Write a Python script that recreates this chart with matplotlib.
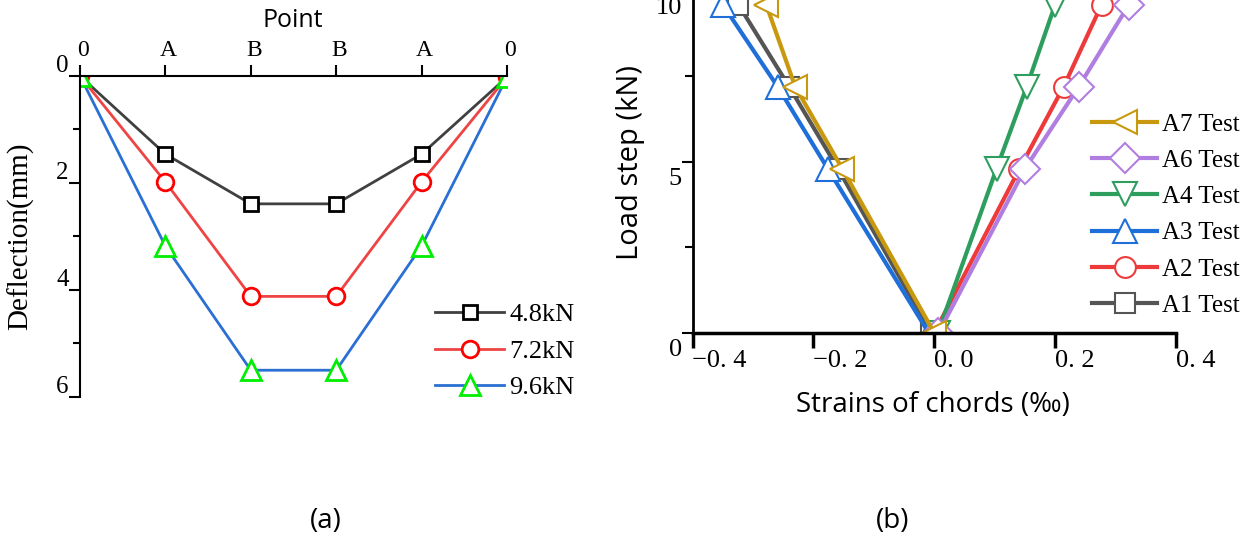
import matplotlib
matplotlib.use('Agg')
import matplotlib.pyplot as plt
import matplotlib.transforms as mtransforms
from matplotlib.ticker import MultipleLocator

# (a) deflection along the chord
points = ['0', 'A', 'B', 'B', 'A', '0']
defl_48 = [0.0, 1.46, 2.39, 2.39, 1.46, 0.02]
defl_72 = [0.0, 1.98, 4.12, 4.12, 1.98, 0.02]
defl_96 = [0.0, 3.18, 5.50, 5.50, 3.18, 0.02]
defl_labels = ['4.8kN', '7.2kN', '9.6kN']

# (b) strains of chords vs load step
load = [0, 4.8, 7.2, 9.6]
a1 = [-0.005, -0.159, -0.240, -0.324]
a2 = [0.000, 0.141, 0.214, 0.277]
a3 = [-0.009, -0.176, -0.259, -0.350]
a4 = [0.006, 0.103, 0.153, 0.200]
a6 = [0.007, 0.150, 0.239, 0.322]
a7 = [0.000, -0.152, -0.230, -0.278]
strain_ticks = [-0.4, -0.2, 0.0, 0.2, 0.4]
strain_ticklabels = ['\u22120. 4', '\u22120. 2', '0. 0', '0. 2', '0. 4']

serif = ['Liberation Serif', 'DejaVu Serif']
sans = ['Open Sans', 'DejaVu Sans']

fig = plt.figure(figsize=(12.5, 5.39), dpi=100)


def shift(labels, dx, dy):
    off = mtransforms.ScaledTranslation(dx / 100, dy / 100, fig.dpi_scale_trans)
    for t in labels:
        t.set_transform(t.get_transform() + off)


# ---------- (a) ----------
ax1 = fig.add_axes([0.064, 0.2635, 0.3416, 0.5955])
x = list(range(len(points)))
ax1.plot(x, defl_48, color='#404040', lw=2, marker='s', ms=10,
         mfc='white', mec='black', mew=2, label=defl_labels[0])
ax1.plot(x, defl_72, color='#ee4444', lw=2, marker='o', ms=12,
         mfc='white', mec='#ff0000', mew=2, label=defl_labels[1])
ax1.plot(x, defl_96, color='#2a6fd2', lw=2, marker='^', ms=15,
         mfc='white', mec='#00ee00', mew=2, label=defl_labels[2])
ax1.set_xlim(0, 5)
ax1.set_ylim(6, 0)
ax1.spines['right'].set_visible(False)
ax1.spines['bottom'].set_visible(False)
ax1.spines['top'].set_linewidth(1.5)
ax1.spines['left'].set_linewidth(1.5)
ax1.xaxis.tick_top()
ax1.set_xticks(x)
ax1.set_xticklabels(points, family=serif, fontsize=17)
ax1.yaxis.set_major_locator(MultipleLocator(2))
ax1.yaxis.set_minor_locator(MultipleLocator(1))
ax1.tick_params(axis='both', direction='out', length=8, width=1.5, pad=3)
ax1.tick_params(axis='y', which='minor', length=5, width=1.5)
for t in ax1.get_yticklabels():
    t.set_family(serif)
    t.set_fontsize(18)
shift(ax1.get_xticklabels(), 3, 0)
shift(ax1.get_yticklabels(), 4, 12)
ax1.set_xlabel('Point', family=sans, fontsize=18)
ax1.xaxis.set_label_position('top')
ax1.xaxis.set_label_coords(293 / 1250, 1 - 27 / 539, transform=fig.transFigure)
ax1.set_ylabel('Deflection(mm)', family=serif, fontsize=21)
ax1.yaxis.set_label_coords(34 / 1250, 1 - 236 / 539, transform=fig.transFigure)
ax1.legend(loc='center', bbox_to_anchor=(505 / 1250, 1 - 351 / 539),
           bbox_transform=fig.transFigure, frameon=False,
           prop={'family': serif, 'size': 19}, handlelength=2.6,
           handletextpad=0.2, labelspacing=0.5, borderpad=0)

# ---------- (b) ----------
ax2 = fig.add_axes([0.554, 0.3822, 0.3868, 0.6345])
series = [
    ('A1 Test', a1, '#555555', 's', 14),
    ('A2 Test', a2, '#ee3a3a', 'o', 15),
    ('A3 Test', a3, '#1f6fda', '^', 17),
    ('A4 Test', a4, '#2e9e5e', 'v', 17),
    ('A6 Test', a6, '#b07ee0', 'D', 15),
    ('A7 Test', a7, '#c8990f', '<', 17),
]
handles = []
for name, vals, col, mk, ms in series:
    h, = ax2.plot(vals, load, color=col, lw=3, marker=mk, ms=ms,
                  mfc='white', mec=col, mew=1.5, label=name)
    handles.append(h)
ax2.set_xlim(-0.4, 0.4)
ax2.set_ylim(0, 10)
ax2.spines['right'].set_visible(False)
ax2.spines['top'].set_visible(False)
ax2.spines['left'].set_linewidth(2)
ax2.spines['bottom'].set_linewidth(2.5)
ax2.set_xticks(strain_ticks)
ax2.set_xticklabels(strain_ticklabels, family=serif, fontsize=19, ha='left')
ax2.yaxis.set_major_locator(MultipleLocator(5))
ax2.yaxis.set_minor_locator(MultipleLocator(2.5))
ax2.tick_params(axis='x', direction='out', length=11, width=2.5, pad=1)
ax2.tick_params(axis='y', direction='out', length=8, width=1.5, pad=4)
ax2.tick_params(axis='y', which='minor', length=6, width=1.5)
for t in ax2.get_yticklabels():
    t.set_family(serif)
    t.set_fontsize(19)
shift(ax2.get_yticklabels(), 6, -15)
ax2.set_xlabel('Strains of chords (\u2030)', family=sans, fontsize=20)
ax2.xaxis.set_label_coords(933 / 1250, 1 - 391 / 539, transform=fig.transFigure)
ax2.set_ylabel('Load step (kN)', family=sans, fontsize=21)
ax2.yaxis.set_label_coords(645 / 1250, 1 - 162 / 539, transform=fig.transFigure)
ax2.legend(handles[::-1], [h.get_label() for h in handles[::-1]],
           loc='center', bbox_to_anchor=(1166 / 1250, 1 - 215 / 539),
           bbox_transform=fig.transFigure, frameon=False,
           prop={'family': serif, 'size': 18}, handlelength=2.6,
           handletextpad=0.2, labelspacing=0.55, borderpad=0)

fig.text(326 / 1250, 1 - 521 / 539, '(a)', family=sans, fontsize=20,
         ha='center', va='center')
fig.text(893 / 1250, 1 - 521 / 539, '(b)', family=sans, fontsize=20,
         ha='center', va='center')

fig.savefig('out.png', dpi=100)
